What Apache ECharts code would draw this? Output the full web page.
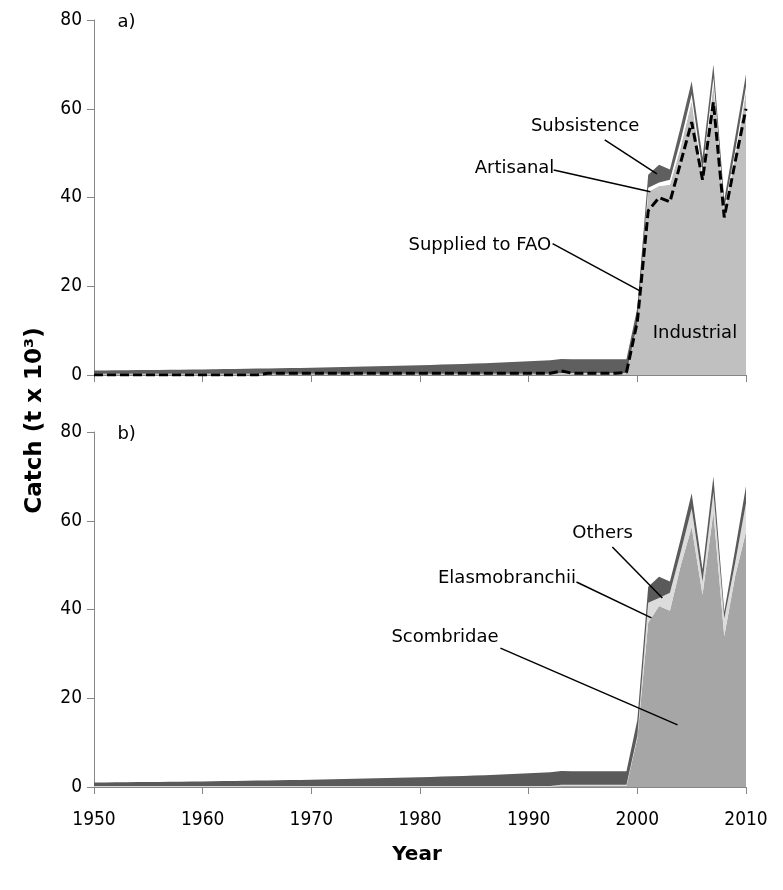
<!doctype html>
<html lang="en">
<head>
    <meta charset="utf-8">
    <title>Catch by sector and taxon</title>
    <style>
        html, body { margin: 0; padding: 0; background: #fff; }
        #main { width: 783px; height: 890px; }
    </style>
</head>
<body>

<div id="main"></div>

<script src="https://cdn.jsdelivr.net/npm/echarts@6/dist/echarts.min.js"></script>

<script>
    var myChart = echarts.init(document.getElementById('main'));

    // years 1950-2010
    var years = ['1950', '1951', '1952', '1953', '1954', '1955', '1956', '1957', '1958', '1959',
        '1960', '1961', '1962', '1963', '1964', '1965', '1966', '1967', '1968', '1969',
        '1970', '1971', '1972', '1973', '1974', '1975', '1976', '1977', '1978', '1979',
        '1980', '1981', '1982', '1983', '1984', '1985', '1986', '1987', '1988', '1989',
        '1990', '1991', '1992', '1993', '1994', '1995', '1996', '1997', '1998', '1999',
        '2000', '2001', '2002', '2003', '2004', '2005', '2006', '2007', '2008', '2009', '2010'];

    // a) by sector (t x 10^3)
    var industrial = [0.2, 0.2, 0.2, 0.2, 0.2, 0.2, 0.2, 0.2, 0.2, 0.2,
        0.2, 0.2, 0.2, 0.2, 0.2, 0.2, 0.2, 0.2, 0.2, 0.2,
        0.2, 0.2, 0.2, 0.2, 0.2, 0.2, 0.2, 0.2, 0.2, 0.2,
        0.2, 0.2, 0.2, 0.2, 0.2, 0.2, 0.2, 0.2, 0.2, 0.2,
        0.2, 0.2, 0.2, 0.3, 0.3, 0.3, 0.3, 0.3, 0.3, 0.3,
        11, 41.3, 42.6, 42.9, 51.5, 61.7, 44.5, 65.5, 36.7, 49, 64];
    var artisanal = [0.1, 0.1, 0.1, 0.1, 0.1, 0.1, 0.1, 0.1, 0.1, 0.1,
        0.1, 0.1, 0.1, 0.1, 0.1, 0.1, 0.1, 0.1, 0.1, 0.1,
        0.1, 0.1, 0.1, 0.1, 0.1, 0.1, 0.1, 0.1, 0.1, 0.1,
        0.1, 0.1, 0.1, 0.1, 0.1, 0.1, 0.1, 0.1, 0.1, 0.1,
        0.1, 0.1, 0.1, 0.1, 0.1, 0.1, 0.1, 0.1, 0.1, 0.1,
        0.5, 0.9, 0.8, 1.1, 1.5, 1.5, 1.5, 1.5, 0.8, 1.5, 1.0];
    var subsistence = [0.7, 0.72, 0.75, 0.77, 0.8, 0.82, 0.85, 0.88, 0.9, 0.93,
        0.96, 1.0, 1.03, 1.07, 1.1, 1.14, 1.18, 1.22, 1.26, 1.3,
        1.35, 1.4, 1.45, 1.5, 1.55, 1.6, 1.66, 1.72, 1.78, 1.84,
        1.9, 1.97, 2.04, 2.11, 2.19, 2.27, 2.36, 2.46, 2.57, 2.68,
        2.8, 2.92, 3.05, 3.2, 3.15, 3.15, 3.15, 3.15, 3.15, 3.15,
        3.6, 2.9, 4.0, 2.3, 3.0, 3.0, 3.0, 3.0, 2.0, 3.0, 2.8];
    var suppliedFAO = [0, 0, 0, 0, 0, 0, 0, 0, 0, 0,
        0, 0, 0, 0, 0, 0, 0.4, 0.4, 0.4, 0.4,
        0.4, 0.4, 0.4, 0.4, 0.4, 0.4, 0.4, 0.4, 0.4, 0.4,
        0.4, 0.4, 0.4, 0.4, 0.4, 0.4, 0.4, 0.4, 0.4, 0.4,
        0.4, 0.4, 0.4, 0.9, 0.4, 0.4, 0.4, 0.4, 0.4, 0.6,
        12, 37, 40, 39, 48, 57, 44, 61.5, 35.5, 48, 60];

    // b) by taxon (t x 10^3)
    var scombridae = [0.1, 0.1, 0.1, 0.1, 0.1, 0.1, 0.1, 0.1, 0.1, 0.1,
        0.1, 0.1, 0.1, 0.1, 0.1, 0.1, 0.1, 0.1, 0.1, 0.1,
        0.1, 0.1, 0.1, 0.1, 0.1, 0.1, 0.1, 0.1, 0.1, 0.1,
        0.1, 0.1, 0.1, 0.1, 0.1, 0.1, 0.1, 0.1, 0.1, 0.1,
        0.1, 0.1, 0.1, 0.2, 0.2, 0.2, 0.2, 0.2, 0.2, 0.2,
        11, 37, 40.8, 39.7, 50, 58.6, 43.3, 62, 34, 47.5, 57.5];
    var elasmobranchii = [0.1, 0.1, 0.1, 0.1, 0.1, 0.1, 0.1, 0.1, 0.1, 0.1,
        0.1, 0.1, 0.1, 0.1, 0.1, 0.1, 0.1, 0.1, 0.1, 0.1,
        0.1, 0.1, 0.1, 0.1, 0.1, 0.1, 0.1, 0.1, 0.1, 0.1,
        0.1, 0.1, 0.1, 0.1, 0.1, 0.1, 0.1, 0.1, 0.1, 0.1,
        0.1, 0.1, 0.1, 0.3, 0.3, 0.3, 0.3, 0.3, 0.3, 0.3,
        0.5, 4.5, 1.8, 4.1, 3.0, 4.2, 3.0, 4.5, 4.0, 3.0, 6.5];
    var others = [0.8, 0.82, 0.85, 0.87, 0.9, 0.92, 0.95, 0.98, 1.0, 1.03,
        1.06, 1.1, 1.13, 1.17, 1.2, 1.24, 1.28, 1.32, 1.36, 1.4,
        1.45, 1.5, 1.55, 1.6, 1.65, 1.7, 1.76, 1.82, 1.88, 1.94,
        2.0, 2.07, 2.14, 2.21, 2.29, 2.37, 2.46, 2.56, 2.67, 2.78,
        2.9, 3.02, 3.15, 3.1, 3.05, 3.05, 3.05, 3.05, 3.05, 3.05,
        3.6, 3.6, 4.8, 2.5, 3.0, 3.4, 2.7, 3.5, 1.5, 3.0, 3.8];

    // annotation anchors in data units [year, catch]
    var notesA = [
        {text: 'Subsistence', at: [1995.2, 56], from: [1997, 53], to: [2001.8, 45.3]},
        {text: 'Artisanal', at: [1988.7, 46.6], from: [1992.3, 46.2], to: [2001.2, 41.3]},
        {text: 'Supplied to FAO', at: [1985.5, 29.3], from: [1992.2, 29.6], to: [2000.2, 19]},
        {text: 'Industrial', at: [2005.3, 9.5]}
    ];
    var notesB = [
        {text: 'Others', at: [1996.8, 57.2], from: [1997.7, 54.1], to: [2002.3, 42.6]},
        {text: 'Elasmobranchii', at: [1988.0, 47.1], from: [1994.4, 46.2], to: [2001.3, 38.1]},
        {text: 'Scombridae', at: [1982.3, 33.8], from: [1987.4, 31.3], to: [2003.7, 14]}
    ];

    var font = 'DejaVu Sans';
    var axisFont = 'DejaVu Sans Condensed';

    var everyTen = function(idx) {
        return idx % 10 === 0;
    };

    var xAxisBase = function(grid, showLabel) {
        return {
            type: 'category',
            gridIndex: grid,
            data: years,
            boundaryGap: false,
            axisLine: {lineStyle: {color: '#868686', width: 1}},
            axisTick: {show: true, length: 7, interval: everyTen, lineStyle: {color: '#868686'}},
            axisLabel: {show: showLabel, interval: everyTen, color: '#000', fontSize: 19, fontFamily: axisFont, margin: 24},
            splitLine: {show: false}
        };
    };
    var yAxisBase = function(grid) {
        return {
            type: 'value',
            gridIndex: grid,
            min: 0,
            max: 80,
            interval: 20,
            axisLine: {show: true, lineStyle: {color: '#868686', width: 1}},
            axisTick: {show: true, length: 7, lineStyle: {color: '#868686'}},
            axisLabel: {color: '#000', fontSize: 19, fontFamily: axisFont, margin: 12},
            splitLine: {show: false}
        };
    };

    var area = function(name, vals, color, grid, stack) {
        return {
            name: name,
            type: 'line',
            xAxisIndex: grid,
            yAxisIndex: grid,
            stack: stack,
            symbol: 'none',
            silent: true,
            lineStyle: {width: 0},
            areaStyle: {color: color, opacity: 1},
            data: vals
        };
    };

    var option = {
        backgroundColor: '#fff',
        animation: false,
        grid: [
            {left: 94, right: 37, top: 20, height: 355},
            {left: 94, right: 37, top: 432, height: 355}
        ],
        xAxis: [xAxisBase(0, false), xAxisBase(1, true)],
        yAxis: [yAxisBase(0), yAxisBase(1)],
        series: [
            area('Industrial', industrial, '#c0c0c0', 0, 'a'),
            area('Artisanal', artisanal, '#ffffff', 0, 'a'),
            area('Subsistence', subsistence, '#5f5f5f', 0, 'a'),
            {
                name: 'Supplied to FAO',
                type: 'line',
                xAxisIndex: 0,
                yAxisIndex: 0,
                symbol: 'none',
                silent: true,
                z: 5,
                lineStyle: {color: '#000', width: 3, type: [9, 4]},
                data: suppliedFAO
            },
            area('Scombridae', scombridae, '#a6a6a6', 1, 'b'),
            area('Elasmobranchii', elasmobranchii, '#dcdcdc', 1, 'b'),
            area('Others', others, '#5a5a5a', 1, 'b')
        ]
    };
    myChart.setOption(option);

    // labels, leader lines and axis titles
    (function() {
        var first = years[0], last = years[years.length - 1];
        var toPx = function(grid, p) {
            var a = myChart.convertToPixel({gridIndex: grid}, [first, 0]);
            var b = myChart.convertToPixel({gridIndex: grid}, [last, 80]);
            var fx = (p[0] - Number(first)) / (Number(last) - Number(first));
            return [a[0] + fx * (b[0] - a[0]), a[1] + (p[1] / 80) * (b[1] - a[1])];
        };
        var els = [];
        var addNotes = function(notes, grid) {
            notes.forEach(function(n) {
                var c = toPx(grid, n.at);
                els.push({
                    type: 'text', x: c[0], y: c[1], z: 10,
                    style: {text: n.text, fill: '#000', font: '18px "' + font + '"', align: 'center', verticalAlign: 'middle'}
                });
                if (n.from) {
                    var a = toPx(grid, n.from), b = toPx(grid, n.to);
                    els.push({
                        type: 'line', z: 10,
                        shape: {x1: a[0], y1: a[1], x2: b[0], y2: b[1]},
                        style: {stroke: '#000', lineWidth: 1.5}
                    });
                }
            });
        };
        addNotes(notesA, 0);
        addNotes(notesB, 1);

        var tagA = toPx(0, [1953, 79.5]), tagB = toPx(1, [1953, 79.5]);
        els.push({type: 'text', x: tagA[0], y: tagA[1], style: {text: 'a)', fill: '#000', font: '18px "' + font + '"', align: 'center', verticalAlign: 'middle'}});
        els.push({type: 'text', x: tagB[0], y: tagB[1], style: {text: 'b)', fill: '#000', font: '18px "' + font + '"', align: 'center', verticalAlign: 'middle'}});

        var upper = toPx(0, [1950, 80]), lower = toPx(1, [2010, 0]);
        els.push({
            type: 'text', x: 35, y: (upper[1] + lower[1]) / 2 + 17, rotation: Math.PI / 2,
            style: {text: 'Catch (t x 10³)', fill: '#000', font: 'bold 23px "' + font + '"', align: 'center', verticalAlign: 'middle'}
        });
        els.push({
            type: 'text', x: (upper[0] + lower[0]) / 2 - 3, y: lower[1] + 68,
            style: {text: 'Year', fill: '#000', font: 'bold 20px "' + font + '"', align: 'center', verticalAlign: 'middle'}
        });
        myChart.setOption({graphic: {elements: els}});
    })();
</script>
</body>
</html>
